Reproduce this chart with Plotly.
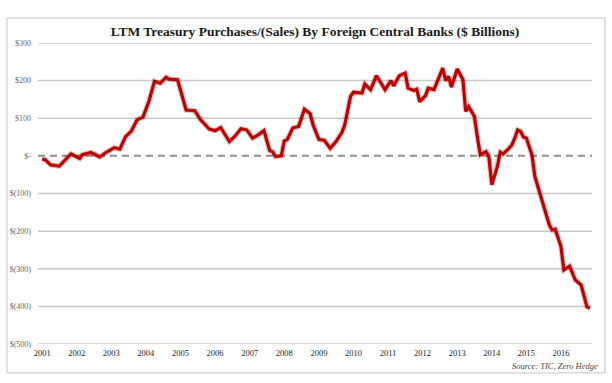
import plotly.graph_objects as go

# Data, $ billions, LTM purchases/(sales)
dates = [
    "2001-01", "2001-02", "2001-04", "2001-07", "2001-11", "2002-02", "2002-03", "2002-06",
    "2002-07", "2002-09", "2002-11", "2003-02", "2003-04", "2003-06", "2003-08", "2003-10",
    "2003-12", "2004-01", "2004-02", "2004-04", "2004-06", "2004-08", "2004-09", "2004-12",
    "2005-01", "2005-03", "2005-06", "2005-08", "2005-11", "2006-01", "2006-03", "2006-06",
    "2006-08", "2006-10", "2006-12", "2007-02", "2007-04", "2007-06", "2007-08", "2007-09",
    "2007-10", "2007-12", "2008-01", "2008-02", "2008-04", "2008-06", "2008-08", "2008-10",
    "2008-11", "2009-01", "2009-03", "2009-05", "2009-07", "2009-09", "2009-10", "2009-12",
    "2010-01", "2010-04", "2010-05", "2010-07", "2010-09", "2010-12", "2011-02", "2011-03",
    "2011-05", "2011-07", "2011-08", "2011-10", "2011-11", "2011-12", "2012-02", "2012-03",
    "2012-05", "2012-06", "2012-08", "2012-09", "2012-10", "2012-11", "2013-01", "2013-03",
    "2013-04", "2013-05", "2013-07", "2013-08", "2013-09", "2013-11", "2013-12", "2014-01",
    "2014-03", "2014-04", "2014-05", "2014-07", "2014-08", "2014-09", "2014-10", "2014-11",
    "2014-12", "2015-01", "2015-03", "2015-04", "2015-06", "2015-07", "2015-09", "2015-10",
    "2015-11", "2016-01", "2016-02", "2016-04", "2016-06", "2016-08", "2016-10", "2016-11",
]
values = [
    -9, -10, -24, -27, 5, -7, 3, 9,
    5, -3, 8, 22, 18, 51, 66, 96,
    103, 122, 144, 198, 193, 209, 204, 202,
    176, 122, 120, 96, 71, 67, 75, 38,
    53, 72, 69, 47, 56, 67, 14, 11,
    -2, 0, 40, 43, 74, 78, 124, 112,
    82, 44, 41, 20, 38, 62, 82, 158,
    169, 167, 191, 176, 213, 176, 200, 186,
    213, 220, 180, 174, 177, 144, 160, 180,
    176, 195, 233, 200, 211, 183, 231, 204,
    118, 131, 105, 51, 3, 11, -2, -77,
    -28, 10, 5, 20, 29, 47, 69, 65,
    50, 47, 3, -55, -108, -130, -184, -197,
    -195, -241, -303, -293, -330, -343, -401, -405,
]

y_ticks = [300, 200, 100, 0, -100, -200, -300, -400, -500]
y_labels = ["$300", "$200", "$100", "$-", "$(100)", "$(200)", "$(300)", "$(400)", "$(500)"]
x_years = [str(y) for y in range(2001, 2017)]
x_tickvals = [f"{y}-01-01" for y in x_years]

title_text = "LTM Treasury Purchases/(Sales) By Foreign Central Banks ($ Billions)"
source_text = "Source: TIC, Zero Hedge"

fig = go.Figure()

# soft shadow under the line
fig.add_trace(go.Scatter(
    x=dates, y=values, mode="lines",
    line=dict(color="rgba(120,0,0,0.22)", width=5.5),
    hoverinfo="skip", showlegend=False,
))
fig.add_trace(go.Scatter(
    x=dates, y=values, mode="lines",
    line=dict(color="#c00000", width=3.2),
    showlegend=False,
))

shapes = []
for v in y_ticks:
    if v == 0:
        continue
    shapes.append(dict(type="line", xref="paper", yref="y", x0=0, x1=1, y0=v, y1=v,
                       line=dict(color="#c8c8c8", width=1.5), layer="below"))
shapes.append(dict(type="line", xref="paper", yref="y", x0=0, x1=1, y0=0, y1=0,
                   line=dict(color="#8c8c8c", width=2, dash="7px,5px"), layer="below"))
# outer frame
shapes.append(dict(type="rect", xref="paper", yref="paper",
                   x0=-0.056, x1=1.0235, y0=-0.096, y1=1.083,
                   line=dict(color="#c4c4c4", width=1), layer="below"))

fig.update_layout(
    width=612, height=383,
    margin=dict(l=38, r=20, t=43, b=39, autoexpand=False),
    paper_bgcolor="white", plot_bgcolor="white",
    shapes=shapes,
    title=dict(text="<b>" + title_text + "</b>", x=0.5, xanchor="center", y=1 - 31 / 383,
               yanchor="middle", xref="paper",
               font=dict(family="Liberation Serif", size=13.5, color="#1a1a1a")),
    xaxis=dict(
        type="date", range=["2000-11-18", "2016-11-24"],
        tickvals=x_tickvals, ticktext=x_years,
        showgrid=False, zeroline=False, showline=False, ticks="",
        tickfont=dict(family="Liberation Serif", size=8.5, color="#222"),
        ticklabelstandoff=2, automargin=False,
    ),
    yaxis=dict(
        range=[-500, 300], tickvals=y_ticks, ticktext=y_labels,
        showgrid=False, zeroline=False, showline=False, ticks="",
        tickfont=dict(family="Liberation Serif", size=8, color="#666"),
        ticklabelstandoff=6, automargin=False,
    ),
    annotations=[dict(
        text="<i>" + source_text + "</i>", xref="paper", yref="paper",
        x=1.0144, y=-0.073, xanchor="right", yanchor="middle", showarrow=False,
        font=dict(family="Liberation Serif", size=8.5, color="#444"),
    )],
)

fig.write_html("out.html",
               config={"displayModeBar": False},
               post_script="document.body.style.margin='0';document.body.style.padding='0';")
